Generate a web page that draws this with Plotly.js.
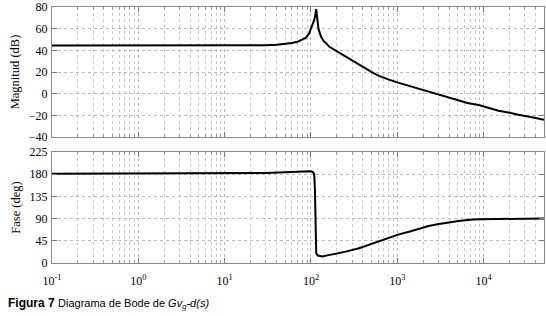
<!DOCTYPE html>
<html>
<head>
<meta charset="utf-8">
<script src="https://cdn.plot.ly/plotly-3.0.1.min.js"></script>
<style>html,body{margin:0;padding:0;background:#fff;}#chart{width:546px;height:316px;}</style>
</head>
<body>
<div id="chart"></div>
<script>
// Magnitude (dB) vs frequency (rad/s)
const magFreq = [0.1, 1, 10, 20, 30, 40, 50, 60, 70, 80, 87, 95, 103, 110, 115, 118, 122, 130, 140, 150, 162, 200, 253, 300, 360, 450, 530, 612, 700, 800, 1040, 1400, 1780, 2300, 3000, 4000, 5150, 6500, 8760, 12000, 14900, 20000, 25300, 35000, 50000];
const magDb   = [44.5, 44.5, 44.5, 44.6, 44.8, 45.2, 45.8, 46.8, 48, 49.8, 51.5, 55.5, 62, 69, 78, 68, 60, 53, 48.5, 46.5, 43.5, 39, 34, 30.5, 26.8, 22.3, 19, 16.5, 14.5, 13, 10, 7, 5, 2, -0.5, -3.5, -6, -8.5, -10.5, -14, -15.7, -17.5, -19.5, -21.5, -24];

// Phase (deg) vs frequency (rad/s)
const phFreq = [0.1, 1, 10, 30, 50, 70, 90, 100, 106, 109, 111, 112, 113, 115, 120, 135, 160, 200, 253, 360, 450, 612, 800, 1043, 1400, 1780, 2300, 3025, 4000, 5150, 7000, 8760, 15000, 50000];
const phDeg  = [181, 181, 181.5, 182.5, 184, 185.5, 186.5, 186, 184, 180, 150, 100, 40, 20, 15, 13, 16, 19, 23, 30, 36, 43, 50, 58, 64, 70, 75, 79, 82.5, 85, 87.5, 88.5, 89.3, 90];

// Axis ticks
const decadeVals = [0.1, 1, 10, 100, 1000, 10000];
const decadeText = ['10<sup>-1</sup>', '10<sup>0</sup>', '10<sup>1</sup>', '10<sup>2</sup>', '10<sup>3</sup>', '10<sup>4</sup>'];
const magTicks = [-40, -20, 0, 20, 40, 60, 80];
const phTicks = [0, 45, 90, 135, 180, 225];

const minorVals = [];
for (let e = -1; e <= 4; e++) {
  for (let k = 2; k <= 9; k++) {
    const v = k * Math.pow(10, e);
    if (v <= 50000) minorVals.push(v);
  }
}

const lineStyle = {color: '#000', width: 2};
const traces = [
  {x: magFreq, y: magDb, type: 'scatter', mode: 'lines', line: lineStyle, xaxis: 'x', yaxis: 'y', hoverinfo: 'skip'},
  {x: phFreq, y: phDeg, type: 'scatter', mode: 'lines', line: lineStyle, xaxis: 'x2', yaxis: 'y2', hoverinfo: 'skip'}
];

const serif = 'Liberation Serif, Times New Roman, serif';
const tickFont = {family: serif, size: 12, color: '#000'};
const gridCol = '#b8b8b8';
function xAxis(showLabels, anchor) {
  return {
    type: 'log', range: [-1, Math.log10(50000)], anchor: anchor,
    tickmode: 'array', tickvals: decadeVals, ticktext: decadeText,
    showticklabels: showLabels, tickfont: tickFont, ticklabelstandoff: 7,
    ticks: 'inside', ticklen: 5, tickcolor: '#777',
    showgrid: true, gridcolor: gridCol, griddash: 'dot', gridwidth: 1,
    minor: {tickmode: 'array', tickvals: minorVals, ticks: 'inside', ticklen: 3, tickcolor: '#999',
            showgrid: true, gridcolor: '#c8c8c8', griddash: 'dot', gridwidth: 1},
    showline: true, linecolor: '#888', linewidth: 1, mirror: 'ticks',
    zeroline: false, fixedrange: true
  };
}
function yAxis(domain, range, ticks, title, anchor) {
  return {
    domain: domain, range: range, anchor: anchor,
    tickmode: 'array', tickvals: ticks, tickfont: tickFont, ticklabelstandoff: 1,
    ticks: 'inside', ticklen: 5, tickcolor: '#777',
    showgrid: true, gridcolor: gridCol, griddash: 'dot', gridwidth: 1,
    showline: true, linecolor: '#888', linewidth: 1, mirror: 'ticks',
    zeroline: false, fixedrange: true,
    title: {text: title, font: {family: serif, size: 12.5, color: '#000'}, standoff: 6}
  };
}

const layout = {
  width: 546, height: 316,
  margin: {l: 52, r: 2, t: 7, b: 53},
  paper_bgcolor: '#fff', plot_bgcolor: '#fff',
  showlegend: false,
  xaxis: xAxis(false, 'y'),
  xaxis2: xAxis(true, 'y2'),
  yaxis: yAxis([0.492, 1], [-40, 80], magTicks, 'Magnitud (dB)', 'x'),
  yaxis2: yAxis([0, 0.4336], [0, 225], phTicks, 'Fase (deg)', 'x2'),
  annotations: [{
    xref: 'paper', yref: 'paper', x: -0.0935, y: -0.16, xanchor: 'left', yanchor: 'middle',
    showarrow: false, align: 'left',
    text: '<b>Figura 7</b> <span style="font-family:\'Liberation Sans Narrow\', \'Arial Narrow\', sans-serif;font-size:11px">Diagrama de Bode de <i>Gv<sub>g</sub>-d(s)</i></span>',
    font: {family: 'Liberation Sans, Arial, sans-serif', size: 12, color: '#000'}
  }]
};

Plotly.newPlot('chart', traces, layout, {displayModeBar: false, staticPlot: true});
</script>
</body>
</html>
